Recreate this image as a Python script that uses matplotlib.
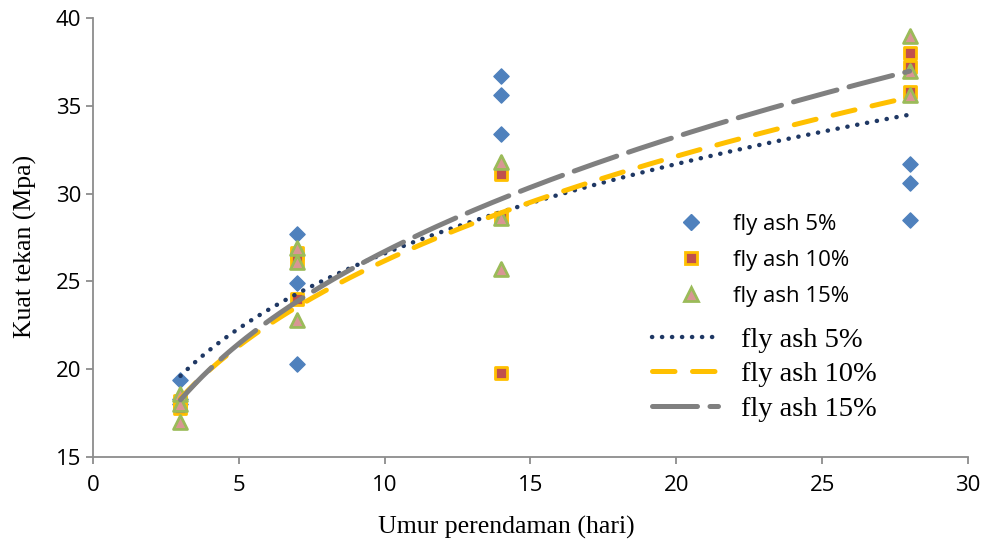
import matplotlib
matplotlib.use("Agg")
import matplotlib.pyplot as plt
import numpy as np
from matplotlib.lines import Line2D

# umur perendaman (hari), 3 benda uji per umur
hari = [3, 3, 3, 7, 7, 7, 14, 14, 14, 28, 28, 28]

fa5 = [19.4, 18.3, 18.0, 27.7, 24.9, 20.3, 36.7, 35.6, 33.4, 31.7, 30.6, 28.5]
fa10 = [18.2, 18.0, 17.8, 26.6, 26.2, 24.0, 31.1, 28.6, 19.8, 38.0, 37.2, 35.8]
fa15 = [18.6, 18.0, 17.0, 26.9, 26.1, 22.8, 31.8, 28.6, 25.7, 39.0, 37.0, 35.6]

labels = ["fly ash 5%", "fly ash 10%", "fly ash 15%"]

fig = plt.figure(figsize=(9.85, 5.4), dpi=100)
ax = fig.add_axes([0.0944, 0.1537, 0.8883, 0.813])

x = np.array(hari, dtype=float)

# titik data
ax.scatter(hari, fa5, marker='D', s=60, color='#4F81BD', edgecolors='#4F81BD', zorder=3)
ax.scatter(hari, fa10, marker='s', s=80, color='#C0504D', edgecolors='#FFC000', linewidths=2, zorder=3)
ax.scatter(hari, fa15, marker='^', s=100, color='#D99694', edgecolors='#9BBB59', linewidths=2, zorder=4)

# trendline power (y = a x^b)
xs = np.linspace(3, 28, 200)
def power_fit(y):
    b, lna = np.polyfit(np.log(x), np.log(np.array(y)), 1)
    return np.exp(lna) * xs ** b

ax.plot(xs, power_fit(fa5), color='#1F3864', lw=3.2, linestyle=(0, (0.05, 2.2)),
        dash_capstyle='round', zorder=5)
ax.plot(xs, power_fit(fa10), color='#FFC000', lw=3.6, linestyle=(0, (4.5, 3.5)),
        dash_capstyle='round', zorder=5)
ax.plot(xs, power_fit(fa15), color='#808080', lw=3.6, linestyle=(0, (9, 2.5)),
        dash_capstyle='round', zorder=5)

ax.set_xlim(0, 30)
ax.set_ylim(15, 40)
ax.set_xticks(range(0, 31, 5))
ax.set_yticks(range(15, 41, 5))
for s in ['top', 'right']:
    ax.spines[s].set_visible(False)
for s in ['left', 'bottom']:
    ax.spines[s].set_color('#8C8C8C')
    ax.spines[s].set_linewidth(1.3)
ax.tick_params(colors='#8C8C8C', length=5, width=1.3, labelcolor='black',
               labelsize=16)
for t in ax.get_xticklabels() + ax.get_yticklabels():
    t.set_fontfamily('Open Sans')
ax.tick_params(axis='x', pad=8)

ax.set_xlabel('Umur perendaman (hari)', family='Liberation Serif', fontsize=18.5)
ax.set_ylabel('Kuat tekan (Mpa)', family='Liberation Serif', fontsize=18.5)
ax.xaxis.set_label_coords(0.472, -0.135)
ax.yaxis.set_label_coords(-0.064, 0.48)

# legenda titik
h1 = [Line2D([], [], marker='D', ls='none', ms=8, color='#4F81BD'),
      Line2D([], [], marker='s', ls='none', ms=9, mfc='#C0504D', mec='#FFC000', mew=2),
      Line2D([], [], marker='^', ls='none', ms=10, mfc='#D99694', mec='#9BBB59', mew=2)]
leg1 = ax.legend(h1, labels, loc='upper left', bbox_to_anchor=(0.635, 0.6), frameon=False,
                 prop={'family': 'Open Sans', 'size': 16}, handletextpad=0.9,
                 labelspacing=0.68)
ax.add_artist(leg1)

h2 = [Line2D([], [], color='#1F3864', lw=3.2, ls=(0, (0.05, 2.2)), dash_capstyle='round'),
      Line2D([], [], color='#FFC000', lw=3.6, ls=(0, (4.5, 3.5)), dash_capstyle='round'),
      Line2D([], [], color='#808080', lw=3.6, ls=(0, (9, 2.5)), dash_capstyle='round')]
ax.legend(h2, labels, loc='upper left', bbox_to_anchor=(0.61, 0.355), frameon=False,
          prop={'family': 'Liberation Serif', 'size': 20.5}, handlelength=2.3,
          handletextpad=0.8, labelspacing=0.3)

fig.savefig('out.png', dpi=100)
